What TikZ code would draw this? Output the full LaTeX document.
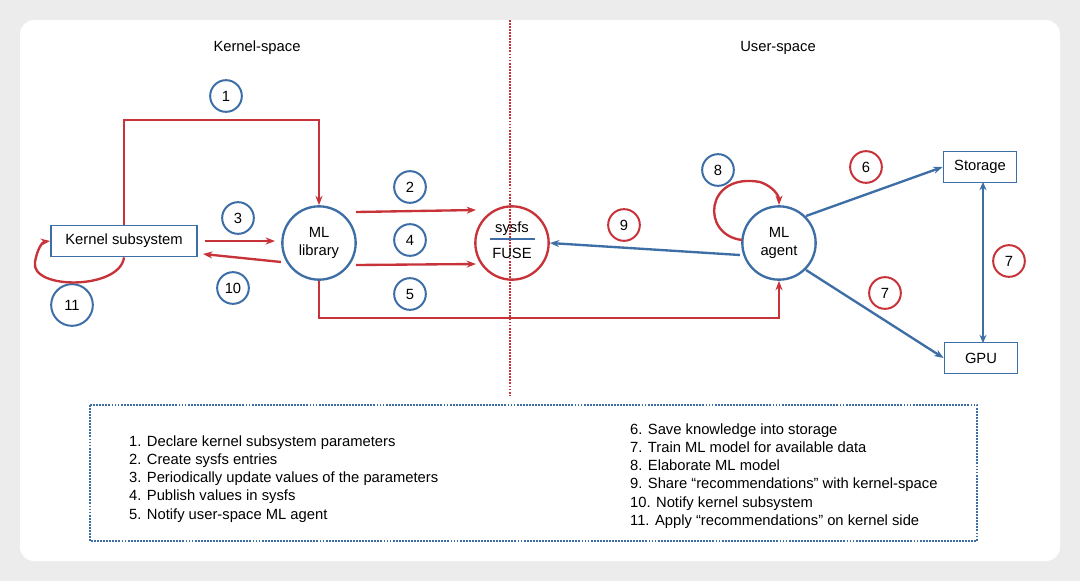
\documentclass[tikz,border=0pt]{standalone}
\usepackage{fontspec}
\setmainfont{Liberation Sans}
\usetikzlibrary{arrows.meta}
\definecolor{kred}{HTML}{C8333A}
\definecolor{kblue}{HTML}{3D6EA5}
\begin{document}
\begin{tikzpicture}[x=0.03cm,y=-0.03cm,
  txt/.style={font=\fontsize{12.6}{15.4}\selectfont},
  bbox/.style={draw=kblue,line width=1.5pt,minimum height=0.93cm,inner sep=0pt,txt},
  bigc/.style={circle,line width=2pt,minimum size=2.2cm,inner sep=0pt,txt,align=center},
  num/.style={circle,line width=1.7pt,minimum size=0.95cm,inner sep=0pt,txt},
  bn/.style={num,draw=kblue}, rn/.style={num,draw=kred},
  ra/.style={draw=kred,line width=2pt,-{Stealth[length=8pt,width=6pt]}},
  ba/.style={draw=kblue,line width=2pt,-{Stealth[length=8pt,width=6pt]}}]
\fill[gray!15] (0,0) rectangle (1080,581);
\fill[white,rounded corners=12pt] (20,20) rectangle (1060,561);
\draw[kred,line width=1.6pt,densely dotted] (510,20) -- (510,395);
\node[txt] (ks) at (257,48) {Kernel-space};
\node[txt] (us) at (778,48) {User-space};
\node[bbox,minimum width=4.38cm] (ksub) at (124,241) {Kernel subsystem};
\node[bigc,draw=kblue] (lib) at (319,243) {ML\\library};
\node[bigc,draw=kred] (fs) at (512,243) {};
\node[txt] (sysfs) at (512,229) {sysfs};
\node[txt] (fuse) at (512,253) {FUSE};
\draw[kblue,line width=2pt] (490,239) -- (535,239);
\node[bigc,draw=kblue] (agent) at (779,243) {ML\\agent};
\node[bbox,minimum width=2.19cm] (sto) at (980,167) {Storage};
\node[bbox,minimum width=2.19cm] (gpu) at (981,358) {GPU};
\node[bn] (n1) at (226,96) {1};
\node[bn] (n2) at (410,187) {2};
\node[bn] (n3) at (238,218) {3};
\node[bn] (n4) at (410,240) {4};
\node[bn] (n5) at (410,294) {5};
\node[bn] (n10) at (233,288) {10};
\node[bn,minimum size=1.25cm] (n11) at (72,305) {11};
\node[bn] (n8) at (718,170) {8};
\node[rn] (n6) at (866,167) {6};
\node[rn] (n9) at (624,225) {9};
\node[rn] (n7a) at (885,293) {7};
\node[rn] (n7b) at (1009,261) {7};
\draw[ra] (ksub.north) -- (124,120) -- (319,120) -- (lib.north);
\draw[ra] (205,241) -- (275,241);
\draw[ra] (281,262) -- (203,254);
\draw[ra] (356,212) -- (476,210);
\draw[ra] (356,265) -- (476,264);
\draw[ra] (lib.south) -- (319,318) -- (779,318) -- (agent.south);
\draw[ba] (740,255) -- (fs.east);
\draw[ra] (742,240) .. controls (700,235) and (705,172) .. (760,182) .. controls (772,186) and (779,195) .. (779,205);
\draw[ra] (ksub.south) .. controls (120,290) and (30,290) .. (35,262) .. controls (37,250) and (42,242) .. (ksub.west);
\draw[ba] (806,216) -- (sto.west);
\draw[ba] (806,270) -- (gpu.west);
\draw[kblue,line width=2pt,{Stealth[length=7pt,width=6pt]}-{Stealth[length=7pt,width=6pt]}] (983,182) -- (983,343);
\draw[kblue,line width=1.6pt,densely dotted] (90,405) rectangle (977,541);
\node[txt,anchor=north west,align=left] (la) at (125,432) {1. Declare kernel subsystem parameters\\2. Create sysfs entries\\3. Periodically update values of the parameters\\4. Publish values in sysfs\\5. Notify user-space ML agent};
\node[txt,anchor=north west,align=left] (lb) at (626,420) {6. Save knowledge into storage\\7. Train ML model for available data\\8. Elaborate ML model\\9. Share “recommendations” with kernel-space\\10. Notify kernel subsystem\\11. Apply “recommendations” on kernel side};
\end{tikzpicture}
\end{document}
